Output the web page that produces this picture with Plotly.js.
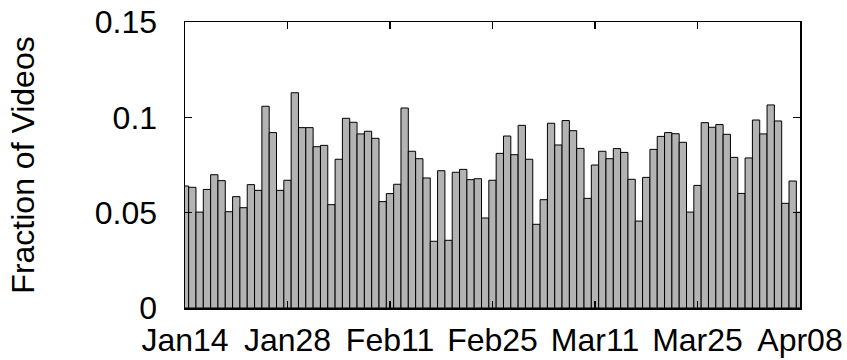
<!DOCTYPE html>
<html>
<head>
<meta charset="utf-8">
<script src="https://cdn.plot.ly/plotly-3.0.1.min.js"></script>
<style>
  html, body { margin: 0; padding: 0; background: #fff; }
  #chart { width: 847px; height: 360px; }
</style>
</head>
<body>
<div id="chart"></div>
<script>
// Daily fraction of videos, Jan 14 through Apr 08
const startDate = '2011-01-14';
const endDate = '2011-04-08';

const fractions = [
  0.0640, 0.0633, 0.0503, 0.0622, 0.0699, 0.0668, 0.0505, 0.0584, 0.0526, 0.0647,
  0.0617, 0.1058, 0.0920, 0.0617, 0.0670, 0.1129, 0.0946, 0.0946, 0.0846, 0.0853,
  0.0542, 0.0780, 0.0995, 0.0974, 0.0913, 0.0927, 0.0890, 0.0558, 0.0600, 0.0649,
  0.1049, 0.0822, 0.0783, 0.0682, 0.0350, 0.0720, 0.0355, 0.0712, 0.0727, 0.0673,
  0.0678, 0.0472, 0.0670, 0.0811, 0.0902, 0.0804, 0.0958, 0.0780, 0.0439, 0.0568,
  0.0969, 0.0855, 0.0983, 0.0930, 0.0837, 0.0575, 0.0750, 0.0822, 0.0783, 0.0836,
  0.0816, 0.0675, 0.0456, 0.0685, 0.0832, 0.0900, 0.0920, 0.0914, 0.0869, 0.0503,
  0.0643, 0.0972, 0.0948, 0.0962, 0.0911, 0.0790, 0.0601, 0.0787, 0.0986, 0.0913,
  0.1065, 0.0981, 0.0549, 0.0666, 0.0502
];

const tickDates = ['2011-01-14', '2011-01-28', '2011-02-11', '2011-02-25',
                   '2011-03-11', '2011-03-25', '2011-04-08'];
const tickLabels = ['Jan14', 'Jan28', 'Feb11', 'Feb25', 'Mar11', 'Mar25', 'Apr08'];

const yTickVals = [0, 0.05, 0.1, 0.15];
const yTickLabels = ['0', '0.05', '0.1', '0.15'];

// one calendar day per bar
const days = fractions.map((_, i) => {
  const d = new Date(startDate + 'T00:00:00Z');
  d.setUTCDate(d.getUTCDate() + i);
  return d.toISOString().slice(0, 10);
});

const font = { family: '"Liberation Sans", Arial, Helvetica, sans-serif', color: '#000' };

const trace = {
  type: 'bar',
  x: days,
  y: fractions,
  marker: { color: '#b3b3b3', line: { color: '#000', width: 1 } },
  hoverinfo: 'x+y'
};

const layout = {
  width: 847,
  height: 360,
  margin: { l: 185, r: 47, t: 22, b: 52 },
  paper_bgcolor: '#fff',
  plot_bgcolor: '#fff',
  bargap: 0,
  showlegend: false,
  font: Object.assign({ size: 32 }, font),
  xaxis: {
    type: 'date',
    range: [startDate, endDate],
    tickmode: 'array',
    tickvals: tickDates,
    ticktext: tickLabels,
    ticks: 'inside',
    ticklen: 7,
    tickwidth: 1.5,
    tickcolor: '#000',
    showline: true,
    linecolor: '#000',
    linewidth: 1.5,
    mirror: 'ticks',
    showgrid: false,
    zeroline: false,
    ticklabelstandoff: 3,
    tickfont: Object.assign({ size: 32 }, font)
  },
  yaxis: {
    range: [0, 0.15],
    tickmode: 'array',
    tickvals: yTickVals,
    ticktext: yTickLabels,
    ticks: 'inside',
    ticklen: 7,
    tickwidth: 1.5,
    tickcolor: '#000',
    showline: true,
    linecolor: '#000',
    linewidth: 1.5,
    mirror: 'ticks',
    showgrid: false,
    zeroline: false,
    ticklabelstandoff: 20,
    tickfont: Object.assign({ size: 32 }, font),
    title: {
      text: 'Fraction of Videos',
      font: Object.assign({ size: 32 }, font),
      standoff: 50
    }
  }
};

Plotly.newPlot('chart', [trace], layout, { staticPlot: true, displayModeBar: false });
</script>
</body>
</html>
